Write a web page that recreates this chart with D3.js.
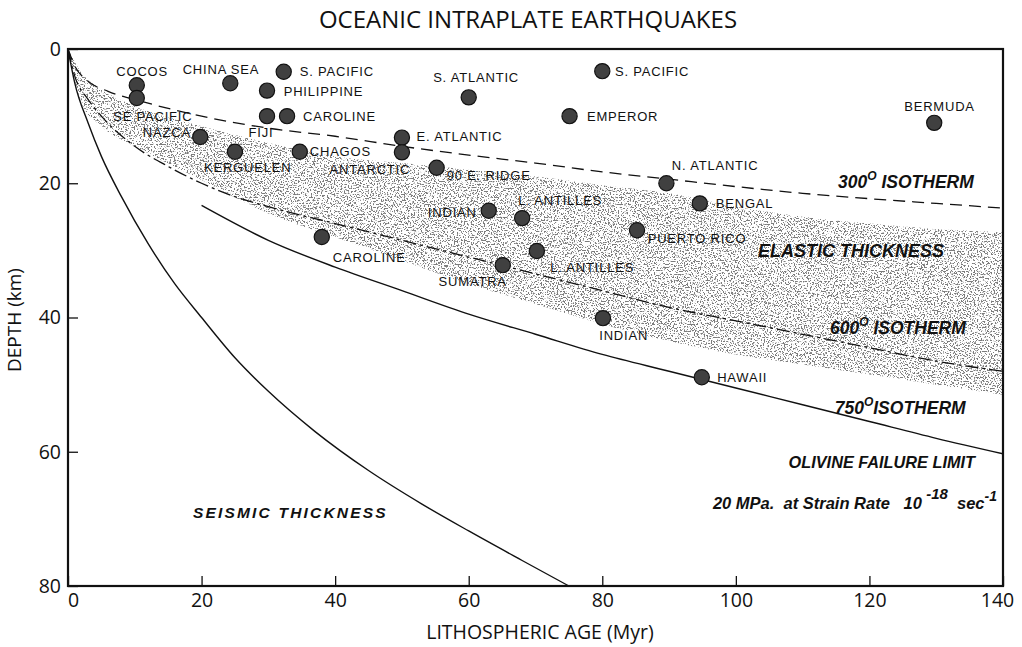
<!DOCTYPE html>
<html>
<head>
<meta charset="utf-8">
<script src="https://cdn.jsdelivr.net/npm/d3@7"></script>
<style>
  body { margin: 0; background: #fff; }
  svg { display: block; }
  .tick text { font-family: "Open Sans", sans-serif; font-size: 19.5px; fill: #111; }
  .tick line { stroke: #111; stroke-width: 1.3; }
  .quake-label { font-family: "Liberation Sans", Arial, sans-serif; font-size: 13px; letter-spacing: 0.8px; fill: #111; }
  .note { font-family: "Liberation Sans", Arial, sans-serif; font-style: italic; font-weight: bold; fill: #111; }
</style>
</head>
<body>
<svg id="chart"></svg>
<script>
// depth curves, km vs lithospheric age, Myr
var seismicAge   = [0, 1, 3, 5, 8, 12, 16, 20, 25, 30, 37, 45, 53, 60, 68, 75];
var seismicDepth = [0, 5, 11, 16, 22, 29, 35, 40, 46, 51, 57, 62.8, 67.8, 71.8, 76.2, 80];

var iso300Age   = [0, 1, 3, 6, 11, 20, 30, 40, 50, 60, 70, 80, 90, 100, 110, 120, 130, 140];
var iso300Depth = [0, 2.5, 4.8, 6.3, 7.8, 10, 11.8, 13, 14.5, 15.8, 17, 18.3, 19.4, 20.5, 21.5, 22.3, 23, 23.7];

var iso600Age   = [0, 1, 3, 5, 10, 15, 20, 25, 30, 40, 50, 60, 70, 80, 90, 100, 110, 120, 130, 140];
var iso600Depth = [0, 4, 7.5, 10, 14.5, 17.5, 20, 22, 23.5, 26, 28.5, 31, 33.5, 36, 38.5, 40.5, 42.5, 44.5, 46.5, 48];

var iso750Age   = [20, 30, 40, 50, 60, 70, 80, 90, 100, 110, 120, 130, 140];
var iso750Depth = [23.3, 28.5, 32.5, 36, 39.5, 42.5, 45.5, 48, 50.5, 53, 55.5, 58, 60.3];

// elastic thickness band
var elasticAge    = [0, 2, 5, 10, 20, 30, 40, 50, 60, 70, 80, 90, 100, 110, 120, 130, 140];
var elasticTop    = [0, 3.5, 6, 8.5, 11.5, 14, 16, 17, 18, 19, 20.3, 21.5, 23.5, 25, 26, 26.8, 27.3];
var elasticBottom = [0, 8, 11.5, 14.5, 19.5, 24.5, 28, 31.5, 35, 38, 41, 43.5, 45.5, 47, 48.5, 50, 51.5];

// earthquakes
var quakeAge   = [10.3, 10.3, 24.3, 32.3, 29.8, 29.8, 32.8, 19.8, 25.0, 34.7, 50.0, 50.0, 55.2, 60.0, 80.0, 75.1,
                  63.0, 68.0, 70.2, 65.1, 38.0, 85.2, 89.6, 94.6, 129.7, 80.1, 94.9];
var quakeDepth = [5.4, 7.3, 5.1, 3.4, 6.2, 10.0, 10.0, 13.1, 15.3, 15.3, 13.2, 15.4, 17.7, 7.2, 3.3, 10.0,
                  24.1, 25.2, 30.1, 32.2, 28.0, 27.0, 20.0, 23.0, 11.0, 40.1, 48.9];

// region labels, placed in data units
var labelText   = ["COCOS", "CHINA SEA", "S. PACIFIC", "PHILIPPINE", "CAROLINE", "SE PACIFIC", "NAZCA", "FIJI",
                   "KERGUELEN", "CHAGOS", "ANTARCTIC", "E. ATLANTIC", "90 E. RIDGE", "S. ATLANTIC", "S. PACIFIC",
                   "EMPEROR", "INDIAN", "L. ANTILLES", "L. ANTILLES", "SUMATRA", "CAROLINE", "PUERTO RICO",
                   "N. ATLANTIC", "BENGAL", "BERMUDA", "INDIAN", "HAWAII"];
var labelAge    = [11.1, 22.9, 34.7, 32.3, 35.2, 12.7, 14.8, 28.9, 26.9, 36.2, 45.2, 52.2, 56.7, 61.1, 81.9,
                   77.7, 61.2, 67.4, 72.2, 60.6, 45.1, 86.8, 96.9, 97.0, 130.5, 83.2, 97.2];
var labelDepth  = [3.3, 3.0, 3.4, 6.3, 10.0, 10.1, 12.5, 12.5, 17.7, 15.3, 18.0, 13.1, 18.8, 4.3, 3.3,
                   10.1, 24.3, 22.5, 32.6, 34.7, 31.0, 28.2, 17.4, 23.0, 8.6, 42.6, 48.9];
var labelAnchor = ["middle", "middle", "start", "start", "start", "middle", "middle", "middle", "middle", "start",
                   "middle", "start", "start", "middle", "start", "start", "end", "start", "start", "middle",
                   "middle", "start", "middle", "start", "middle", "middle", "start"];

var ageTicks   = [0, 20, 40, 60, 80, 100, 120, 140];
var depthTicks = [0, 20, 40, 60, 80];

var width = 1022, height = 647;
var svg = d3.select("#chart").attr("width", width).attr("height", height);

var x = d3.scaleLinear().domain([0, 140]).range([68, 1003]);
var y = d3.scaleLinear().domain([0, 80]).range([49, 586]);

// stipple texture for the band
var defs = svg.append("defs");
var filt = defs.append("filter").attr("id", "stipple")
    .attr("x", 0).attr("y", 0).attr("width", 1).attr("height", 1);
filt.append("feTurbulence").attr("type", "fractalNoise").attr("baseFrequency", 0.7)
    .attr("numOctaves", 2).attr("seed", 7).attr("result", "noise");
filt.append("feColorMatrix").attr("in", "noise").attr("type", "matrix")
    .attr("values", "0 0 0 0 0.2  0 0 0 0 0.2  0 0 0 0 0.2  -12 0 0 0 5.6").attr("result", "dots");
filt.append("feComposite").attr("in", "dots").attr("in2", "SourceAlpha").attr("operator", "in");

function zipPts(a, b) { return a.map(function(v, i) { return [v, b[i]]; }); }

var line = d3.line()
    .x(function(d) { return x(d[0]); })
    .y(function(d) { return y(d[1]); })
    .curve(d3.curveMonotoneX);

var band = d3.area()
    .x(function(d) { return x(d.age); })
    .y0(function(d) { return y(d.top); })
    .y1(function(d) { return y(d.bottom); })
    .curve(d3.curveMonotoneX);

var bandData = elasticAge.map(function(a, i) {
    return { age: a, top: elasticTop[i], bottom: elasticBottom[i] };
});

svg.append("path")
    .datum(bandData)
    .attr("d", band)
    .attr("fill", "#000")
    .attr("filter", "url(#stipple)");

svg.append("path")
    .datum(zipPts(seismicAge, seismicDepth))
    .attr("d", line)
    .attr("fill", "none").attr("stroke", "#111").attr("stroke-width", 1.4);

svg.append("path")
    .datum(zipPts(iso300Age, iso300Depth))
    .attr("d", line)
    .attr("fill", "none").attr("stroke", "#111").attr("stroke-width", 1.3)
    .attr("stroke-dasharray", "12,7");

svg.append("path")
    .datum(zipPts(iso600Age, iso600Depth))
    .attr("d", line)
    .attr("fill", "none").attr("stroke", "#111").attr("stroke-width", 1.3)
    .attr("stroke-dasharray", "13,4,3,4");

svg.append("path")
    .datum(zipPts(iso750Age, iso750Depth))
    .attr("d", line)
    .attr("fill", "none").attr("stroke", "#111").attr("stroke-width", 1.4);

// axes
var xAxis = d3.axisBottom(x).tickValues(ageTicks).tickSizeInner(-10).tickSizeOuter(0).tickPadding(7);
var yAxis = d3.axisLeft(y).tickValues(depthTicks).tickSizeInner(-10).tickSizeOuter(0).tickPadding(7);

svg.append("g").attr("transform", "translate(0," + y(80) + ")").call(xAxis)
    .call(function(g) { g.select(".domain").remove(); })
    .call(function(g) {
        g.selectAll(".tick text").attr("dx", function(d) { return d === 0 ? 5 : (d === 140 ? -6 : 0); });
    });
svg.append("g").attr("transform", "translate(" + x(0) + ",0)").call(yAxis)
    .call(function(g) { g.select(".domain").remove(); });

svg.append("rect")
    .attr("x", x(0)).attr("y", y(0))
    .attr("width", x(140) - x(0)).attr("height", y(80) - y(0))
    .attr("fill", "none").attr("stroke", "#111").attr("stroke-width", 2.2);

// quakes
svg.selectAll(".quake")
    .data(quakeAge.map(function(a, i) { return [a, quakeDepth[i]]; }))
    .enter().append("circle")
    .attr("class", "quake")
    .attr("cx", function(d) { return x(d[0]); })
    .attr("cy", function(d) { return y(d[1]); })
    .attr("r", 7.6)
    .attr("fill", "#404040")
    .attr("stroke", "#111")
    .attr("stroke-width", 1.2);

svg.selectAll(".quake-label")
    .data(labelText)
    .enter().append("text")
    .attr("class", "quake-label")
    .attr("x", function(d, i) { return x(labelAge[i]); })
    .attr("y", function(d, i) { return y(labelDepth[i]); })
    .attr("dy", "0.35em")
    .attr("text-anchor", function(d, i) { return labelAnchor[i]; })
    .text(function(d) { return d; });

// annotations
function isotherm(t, deg, age, depth) {
    var el = svg.append("text").attr("class", "note")
        .attr("x", x(age)).attr("y", y(depth)).attr("dy", "0.35em")
        .style("font-size", "17.5px");
    el.append("tspan").text(deg);
    el.append("tspan").attr("dy", -8).style("font-size", "12px").text("O");
    el.append("tspan").attr("dy", 8).text(t);
}
isotherm(" ISOTHERM", "300", 115.3, 19.8);
isotherm(" ISOTHERM", "600", 114.1, 41.6);
isotherm("ISOTHERM", "750", 114.8, 53.5);

svg.append("text").attr("class", "note")
    .attr("x", x(103.3)).attr("y", y(30)).attr("dy", "0.35em")
    .style("font-size", "18px")
    .text("ELASTIC THICKNESS");

svg.append("text").attr("class", "note")
    .attr("x", x(135.8)).attr("y", y(61.5)).attr("dy", "0.35em")
    .attr("text-anchor", "end")
    .style("font-size", "16.3px")
    .text("OLIVINE FAILURE LIMIT");

var rate = svg.append("text").attr("class", "note")
    .attr("x", x(139.1)).attr("y", y(67.7)).attr("dy", "0.35em")
    .attr("text-anchor", "end")
    .style("font-size", "16.5px")
    .style("white-space", "pre");
rate.append("tspan").text("20 MPa.  at Strain Rate   10");
rate.append("tspan").attr("dy", -10).style("font-size", "15px").text(" -18");
rate.append("tspan").attr("dy", 10).text("  sec");
rate.append("tspan").attr("dy", -8).style("font-size", "14px").text("-1");

svg.append("text").attr("class", "note")
    .attr("x", x(18.7)).attr("y", y(69)).attr("dy", "0.35em")
    .style("font-size", "15.5px").style("letter-spacing", "2.2px")
    .text("SEISMIC THICKNESS");

// titles
svg.append("text")
    .attr("x", 528).attr("y", 28)
    .attr("text-anchor", "middle")
    .style("font-family", "Open Sans, sans-serif").style("font-size", "24px").style("fill", "#111")
    .text("OCEANIC INTRAPLATE EARTHQUAKES");

svg.append("text")
    .attr("x", 540).attr("y", 639)
    .attr("text-anchor", "middle")
    .style("font-family", "Open Sans, sans-serif").style("font-size", "19.5px").style("fill", "#111")
    .text("LITHOSPHERIC AGE (Myr)");

svg.append("text")
    .attr("transform", "translate(21,320) rotate(-90)")
    .attr("text-anchor", "middle")
    .style("font-family", "Open Sans, sans-serif").style("font-size", "19px").style("fill", "#111")
    .text("DEPTH (km)");
</script>
</body>
</html>
